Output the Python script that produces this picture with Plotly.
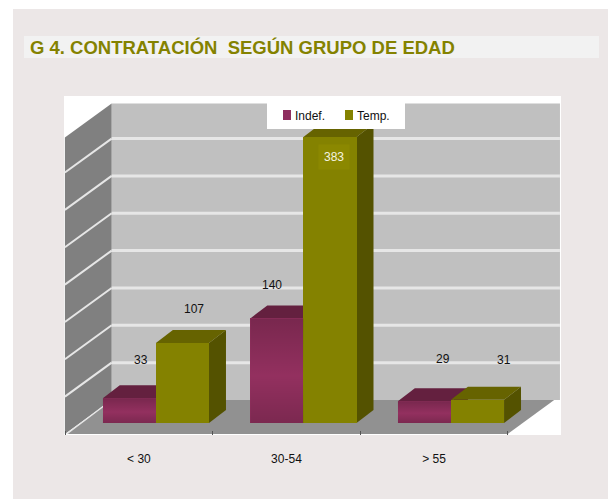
import plotly.graph_objects as go

# ---- data ----
categories = ["< 30", "30-54", "> 55"]
cat_pos = [0, 1, 2]
series_names = ["Indef.", "Temp."]
indef = [33, 140, 29]
temp = [107, 383, 31]
grid_values = [50, 100, 150, 200, 250, 300, 350]
title_text = "G 4. CONTRATACIÓN\u00a0\u00a0SEGÚN GRUPO DE EDAD"

# ---- style ----
W, H = 608, 499
ML, MR, MT, MB = 64, 47, 96, 64
PW, PH = W - ML - MR, H - MT - MB
FONT = "Liberation Sans, Arial, sans-serif"
PANEL = "#ECE7E7"
BAND = "#F2F2F2"
MAROON, MAROON_TOP, MAROON_SIDE = "#93305F", "#64203F", "#5A1C38"
OLIVE, OLIVE_TOP, OLIVE_SIDE = "#848200", "#666300", "#545200"

# 3D projection, in axis units
XR = [-0.508, 2.861]
YR = [-16.06, 437.8]
BAR_W = 0.36
OFF_I, OFF_T = -0.245, 0.115
BAR_DX, BAR_DY = 0.115, 17.4
FLOOR_Y = -14.7
DEPTH_X, DEPTH_Y = 0.305, 45.5
LEFT_X = -0.49
RIGHT_FRONT = 2.50
RIGHT_BACK = 2.815
WALL_RIGHT = 2.854
WALL_TOP = 397


def px(x):
    return (x - ML) / PW


def py(y):
    return (H - y - MB) / PH


def paper_rect(x0, y0, x1, y1, fill, layer="below"):
    return dict(type="rect", xref="paper", yref="paper", layer=layer,
                x0=px(x0), x1=px(x1), y0=py(y1), y1=py(y0),
                fillcolor=fill, line=dict(width=0))


def poly(pts, fill):
    path = "M" + " L".join(f"{x},{y}" for x, y in pts) + " Z"
    return dict(type="path", path=path, xref="x", yref="y", layer="below",
                fillcolor=fill, line=dict(color=fill, width=0))


def seg(x0, y0, x1, y1, color, width):
    return dict(type="line", x0=x0, y0=y0, x1=x1, y1=y1, xref="x", yref="y",
                layer="below", line=dict(color=color, width=width))


shapes = [
    paper_rect(0, 0, 13, H, "white"),
    paper_rect(0, 0, W, 9, "white"),
    paper_rect(24, 36, 599, 58, BAND),
]

back_x = LEFT_X + DEPTH_X
back_y = FLOOR_Y + DEPTH_Y
# walls and floor
shapes.append(poly([(back_x, back_y), (WALL_RIGHT, back_y), (WALL_RIGHT, back_y + WALL_TOP),
                    (back_x, back_y + WALL_TOP)], "#C0C0C0"))
shapes.append(poly([(LEFT_X - 0.012, FLOOR_Y), (back_x, back_y), (back_x, back_y + WALL_TOP),
                    (LEFT_X - 0.012, FLOOR_Y + WALL_TOP)], "#808080"))
shapes.append(poly([(LEFT_X, FLOOR_Y), (RIGHT_FRONT, FLOOR_Y), (RIGHT_BACK, back_y),
                    (back_x, back_y)], "#919191"))
# gridlines
for v in grid_values:
    shapes.append(seg(back_x, back_y + v, WALL_RIGHT, back_y + v, "#E6E6E6", 3))
    shapes.append(seg(LEFT_X - 0.012, FLOOR_Y + v, back_x, back_y + v, "#E6E6E6", 2))
shapes.append(seg(LEFT_X, FLOOR_Y, back_x, back_y, "#E6E6E6", 1.5))


def faces(x0, x1, v, top, side):
    return [
        poly([(x1, 0), (x1 + BAR_DX, BAR_DY), (x1 + BAR_DX, v + BAR_DY), (x1, v)], side),
        poly([(x0, v), (x1, v), (x1 + BAR_DX, v + BAR_DY), (x0 + BAR_DX, v + BAR_DY)], top),
    ]


for p, a, b in zip(cat_pos, indef, temp):
    shapes += faces(p + OFF_I, p + OFF_I + BAR_W, a, MAROON_TOP, MAROON_SIDE)
    shapes += faces(p + OFF_T, p + OFF_T + BAR_W, b, OLIVE_TOP, OLIVE_SIDE)

# legend box and swatches
shapes.append(paper_rect(267, 100, 405, 129, "white", "above"))
shapes.append(paper_rect(283, 110, 291, 120, "#8F2E5F", "above"))
shapes.append(paper_rect(345, 110, 353, 120, OLIVE, "above"))

fig = go.Figure()
fig.add_bar(name=series_names[0], x=cat_pos, y=indef, width=BAR_W, offset=OFF_I,
            marker_color=MAROON, marker_line_width=0, showlegend=False)
fig.add_bar(name=series_names[1], x=cat_pos, y=temp, width=BAR_W, offset=OFF_T,
            marker_color=OLIVE, marker_line_width=0, showlegend=False)

# soft vertical shading over the maroon fronts
for p, a in zip(cat_pos, indef):
    x0, x1 = p + OFF_I, p + OFF_I + BAR_W
    fig.add_scatter(x=[x0, x1, x1, x0, x0], y=[0, 0, a, a, 0], mode="lines", line_width=0,
                    fill="toself", showlegend=False, hoverinfo="skip",
                    fillgradient=dict(type="vertical",
                                      colorscale=[[0, "rgba(0,0,0,0.16)"], [0.45, "rgba(0,0,0,0)"],
                                                  [1, "rgba(0,0,0,0.18)"]]))

# value labels
label_font = dict(family=FONT, size=12, color="#111111")
label_offsets_i = [(0.014, 38), (-0.098, 33), (0.061, 42)]
label_offsets_t = [(0.373, 34), (0.325, -20), (0.475, 40)]
annotations = []
for p, v, (dx, dy) in zip(cat_pos, indef, label_offsets_i):
    annotations.append(dict(x=p + dx, y=v, yshift=dy, text=str(v), showarrow=False, font=label_font))
for p, v, (dx, dy) in zip(cat_pos, temp, label_offsets_t):
    a = dict(x=p + dx, y=v, yshift=dy, text=str(v), showarrow=False, font=label_font)
    if v == max(temp):
        a.update(font=dict(family=FONT, size=12, color="#F4F4E0"), bgcolor="#8B8800",
                 borderpad=5)
    annotations.append(a)

# legend texts
for name, left in zip(series_names, [294, 356]):
    annotations.append(dict(xref="paper", yref="paper", x=px(left), y=py(116), xanchor="left",
                            yanchor="middle", text=name, showarrow=False, font=label_font,
                            borderpad=0))

fig.update_layout(
    width=W, height=H, autosize=False,
    margin=dict(l=ML, r=MR, t=MT, b=MB, pad=0),
    paper_bgcolor=PANEL, plot_bgcolor="white",
    barmode="overlay", bargap=0,
    shapes=shapes, annotations=annotations, showlegend=False,
    font=dict(family=FONT, size=12, color="#111111"),
    title=dict(text=f"<b>{title_text}</b>", x=30 / W, xref="container", xanchor="left",
               y=1 - 47.5 / H, yref="container", yanchor="middle",
               font=dict(family=FONT, size=18.5, color=OLIVE)),
    xaxis=dict(range=XR, tickvals=cat_pos, ticktext=categories, ticks="", showgrid=False,
               zeroline=False, showline=False, ticklabelstandoff=15,
               tickfont=dict(family=FONT, size=12, color="#111111"),
               minor=dict(tickvals=[-0.5, 0.5, 1.5, 2.5], ticks="inside", ticklen=4,
                          tickcolor="#555555", tickwidth=1, showgrid=False)),
    yaxis=dict(range=YR, showgrid=False, zeroline=False, showline=False, showticklabels=False,
               ticks=""),
)

fig.write_html("out.html", config={"displayModeBar": False},
               post_script="document.body.style.margin='0';")
